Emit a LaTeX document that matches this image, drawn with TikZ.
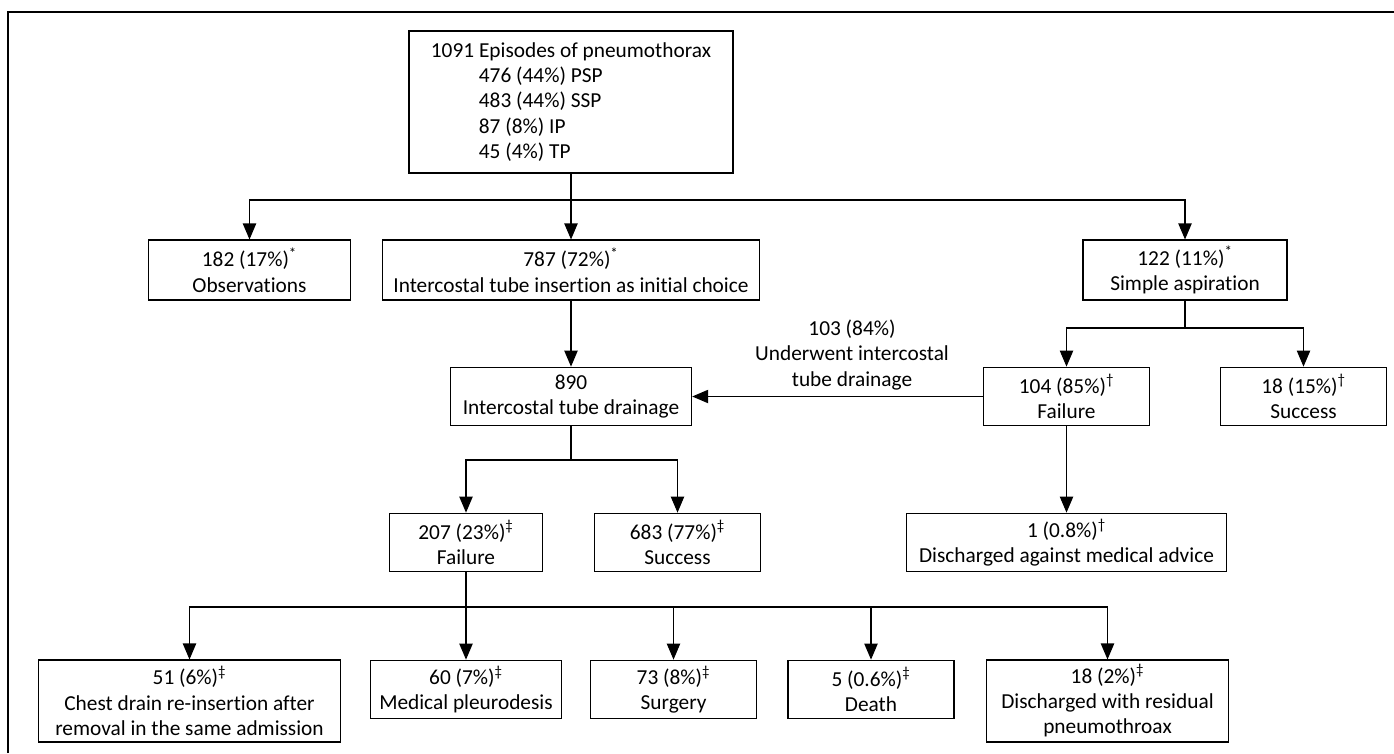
\documentclass[tikz,border=0pt]{standalone}
\usepackage{fontspec}
\setmainfont{Carlito}[Ligatures=NoCommon]
\usetikzlibrary{arrows.meta}
\newcommand{\fstar}{\textsuperscript{*}}
\newcommand{\fdag}{\textsuperscript{†}}
\newcommand{\fddag}{\textsuperscript{‡}}
\begin{document}
\begin{tikzpicture}[x=0.75pt, y=-0.75pt,
        txt/.style={font=\fontsize{16}{19}\selectfont},
        box/.style={txt, draw, line width=0.8pt, align=center, inner sep=2pt},
        link/.style={line width=0.8pt},
        arr/.style={link, -{Triangle[length=12pt,width=10pt]}}]
        \useasboundingbox (0,0) rectangle (1394,753);
        \draw[link] (8,753) -- (8,12) -- (1394,12);

        \node[box, align=left, minimum width=243pt, minimum height=106.5pt] (eps) at (571,102)
            {1091 Episodes of pneumothorax\\\hspace*{36pt}476 (44\%) PSP\\\hspace*{36pt}483 (44\%) SSP\\\hspace*{36pt}87 (8\%) IP\\\hspace*{36pt}45 (4\%) TP};

        \node[box, minimum width=152pt, minimum height=45pt] (obs) at (249.5,270) {182 (17\%)\fstar\\Observations};
        \node[box, minimum width=283pt, minimum height=45pt] (tube) at (571,270) {787 (72\%)\fstar\\Intercostal tube insertion as initial choice};
        \node[box, minimum width=153pt, minimum height=45pt] (asp) at (1185,270) {122 (11\%)\fstar\\Simple aspiration};

        \node[box, minimum width=181pt, minimum height=44pt] (icd) at (571,396.5) {890\\Intercostal tube drainage};
        \node[box, minimum width=125pt, minimum height=44pt] (aspfail) at (1066.5,396.5) {104 (85\%)\fdag\\Failure};
        \node[box, minimum width=125pt, minimum height=44pt] (aspok) at (1303.5,396.5) {18 (15\%)\fdag\\Success};
        \node[txt, align=center] (lbl) at (852,355) {103 (84\%)\\Underwent intercostal\\tube drainage};

        \node[box, minimum width=115pt, minimum height=44pt] (icdfail) at (466,542.5) {207 (23\%)\fddag\\Failure};
        \node[box, minimum width=124pt, minimum height=44pt] (icdok) at (677.5,542.5) {683 (77\%)\fddag\\Success};
        \node[box, minimum width=240pt, minimum height=44pt] (dama) at (1066.5,542.5) {1 (0.8\%)\fdag\\Discharged against medical advice};

        \node[box, minimum width=226pt, minimum height=61.5pt] (reins) at (189.5,701) {51 (6\%)\fddag\\Chest drain re-insertion after\\removal in the same admission};
        \node[box, minimum width=143pt, minimum height=44pt] (pleu) at (466,689.5) {60 (7\%)\fddag\\Medical pleurodesis};
        \node[box, minimum width=124pt, minimum height=44pt] (surg) at (673.5,689.5) {73 (8\%)\fddag\\Surgery};
        \node[box, minimum width=124.5pt, minimum height=44pt] (death) at (871,689.5) {5 (0.6\%)\fddag\\Death};
        \node[box, minimum width=182pt, minimum height=61.5pt] (resid) at (1107.5,701) {18 (2\%)\fddag\\Discharged with residual\\pneumothroax};

        \coordinate (j1) at (571,200);
        \coordinate (j2) at (1185,328);
        \coordinate (j3) at (571,460);
        \coordinate (j4) at (466,607);

        \draw[link] (eps) -- (j1);
        \draw[arr] (j1) -| (obs);
        \draw[arr] (j1) -- (tube);
        \draw[arr] (j1) -| (asp);
        \draw[arr] (tube) -- (icd);
        \draw[link] (asp) -- (j2);
        \draw[arr] (j2) -| (aspfail);
        \draw[arr] (j2) -| (aspok);
        \draw[arr] (aspfail) -- (icd);
        \draw[arr] (aspfail) -- (dama);
        \draw[link] (icd) -- (j3);
        \draw[arr] (j3) -| (icdfail);
        \draw[arr] (j3) -| (icdok);
        \draw[link] (icdfail) -- (j4);
        \foreach \n in {reins,pleu,surg,death,resid}
            \draw[arr] (j4) -| (\n);
\end{tikzpicture}
\end{document}
